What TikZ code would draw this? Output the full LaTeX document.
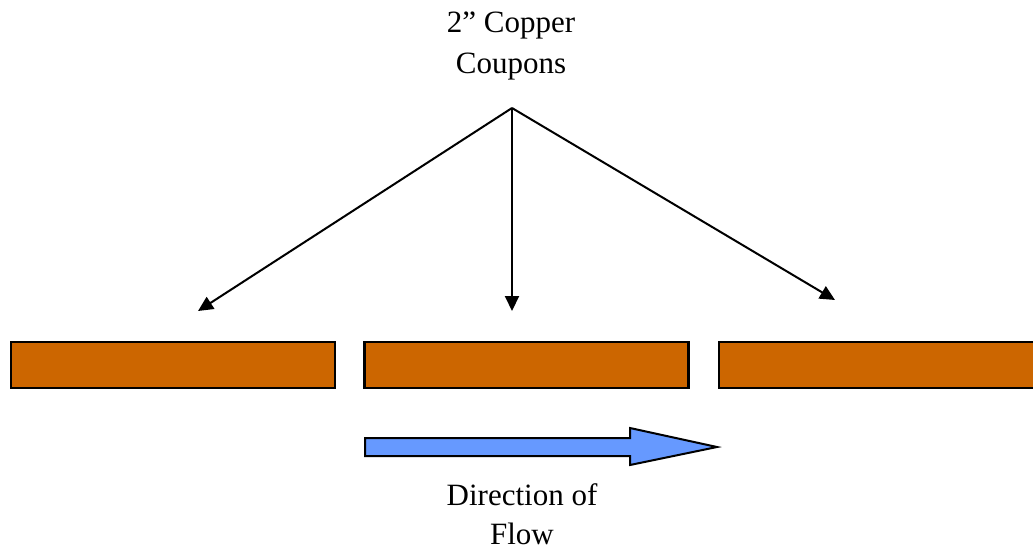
\documentclass[tikz,border=0pt]{standalone}
\usepackage{fontspec}
\setmainfont{Liberation Serif}
\usetikzlibrary{arrows.meta}
\definecolor{copper}{HTML}{CC6600}
\definecolor{flowblue}{HTML}{6699FF}
\begin{document}
\begin{tikzpicture}[x=1pt,y=-1pt,
  coupon/.style={draw=black, line width=2.6pt, fill=copper, minimum width=324pt, minimum height=46pt, inner sep=0pt, outer sep=0pt},
  pointer/.style={line width=2pt, -{Triangle[length=15pt,width=14pt]}},
  label/.style={font=\fontsize{31}{41}\selectfont, align=center, inner sep=0pt}]
\useasboundingbox (0,0) rectangle (1033,550);
\clip (0,0) rectangle (1033,550);
% labels
\node[label] (top) at (511,45.5) {2” Copper\\Coupons};
\node[label, font=\fontsize{31}{39}\selectfont] (flow) at (522,514) {Direction of\\Flow};
% coupons
\node[coupon] (c1) at (173,365) {};
\node[coupon] (c2) at (526.5,365) {};
\node[coupon] (c3) at (881,365) {};
% pointers
\coordinate (apex) at (512,108);
\coordinate (e1) at (198,311);
\coordinate (e2) at (512,311);
\coordinate (e3) at (835,300);
\draw[pointer] (apex) -- (e1);
\draw[pointer] (apex) -- (e2);
\draw[pointer] (apex) -- (e3);
% flow arrow
\draw[line width=2pt, fill=flowblue, line join=miter]
  (365,438) -- (630,438) -- (630,428) -- (717,447) -- (630,465) -- (630,456) -- (365,456) -- cycle;
\end{tikzpicture}
\end{document}
